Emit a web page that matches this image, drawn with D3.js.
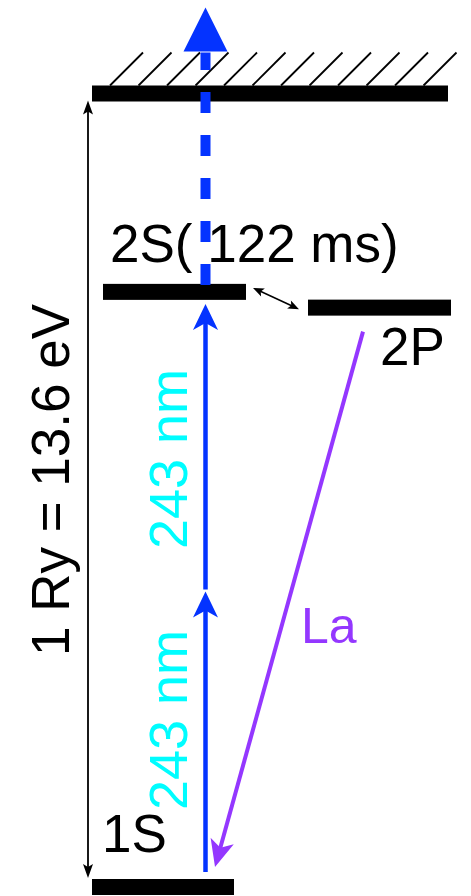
<!DOCTYPE html>
<html>
<head>
<meta charset="utf-8">
<script src="https://cdn.jsdelivr.net/npm/d3@7"></script>
<style>
  html, body { margin: 0; padding: 0; background: #ffffff; }
  svg { display: block; }
  text { font-family: "Liberation Sans", Arial, Helvetica, sans-serif; }
</style>
</head>
<body>
<svg id="chart" width="471" height="896"></svg>
<script>
// Hydrogen levels (energy above the ground state, eV)
const levelNames = ["1S", "2S", "2P", "ion"];
const levelEnergies = [0, 10.2, 9.93, 13.6];   // 2P set a little below 2S so both bars stay readable
const levelLabels = ["1S", "2S( 122 ms)", "2P", ""];

// Two-photon excitation 1S -> 2S, one 243 nm photon per step (eV)
const photonSteps = [[0, 5.1], [5.1, 10.2]];
const photonLabels = ["243 nm", "243 nm"];

// Lyman-alpha decay 2P -> 1S
const decayLevels = ["2P", "1S"];
const decayLabel = "La";

const rydbergEnergy = 13.6;
const rydbergLabel = "1 Ry = 13.6 eV";

// ---- layout ----
const W = 471, H = 896;
const C = { blue: "#0433ff", cyan: "#00fdff", purple: "#9437ff", black: "#000000" };
const barThick = 16;
const barX = { "1S": [92, 234], "2S": [103, 246], "2P": [308, 451], "ion": [92, 448] };
const laserX = 205.5;

const svg = d3.select("#chart");
const y = d3.scaleLinear().domain([0, rydbergEnergy]).range([887, 93.5]);
const E = name => levelEnergies[levelNames.indexOf(name)];

// notched arrow head: tip point, direction taken from `from`
function headPath(tip, from, len, halfW, notch) {
  const dx = tip[0] - from[0], dy = tip[1] - from[1];
  const L = Math.hypot(dx, dy), ux = dx / L, uy = dy / L;
  const bx = tip[0] - len * ux, by = tip[1] - len * uy;
  const nx = -uy, ny = ux;
  const p = d3.path();
  p.moveTo(tip[0], tip[1]);
  p.lineTo(bx + halfW * nx, by + halfW * ny);
  p.lineTo(tip[0] - (len - notch) * ux, tip[1] - (len - notch) * uy);
  p.lineTo(bx - halfW * nx, by - halfW * ny);
  p.closePath();
  return p.toString();
}
function shaftEnd(tip, from, back) {
  const dx = tip[0] - from[0], dy = tip[1] - from[1];
  const L = Math.hypot(dx, dy);
  return [tip[0] - back * dx / L, tip[1] - back * dy / L];
}
function arrow(g, from, to, opt) {
  const end = shaftEnd(to, from, opt.len - opt.notch - 1);
  const start = opt.both ? shaftEnd(from, to, opt.len - opt.notch - 1) : from;
  g.append("line")
    .attr("x1", start[0]).attr("y1", start[1])
    .attr("x2", end[0]).attr("y2", end[1])
    .attr("stroke", opt.color).attr("stroke-width", opt.width);
  g.append("path").attr("d", headPath(to, from, opt.len, opt.halfW, opt.notch)).attr("fill", opt.color);
  if (opt.both) g.append("path").attr("d", headPath(from, to, opt.len, opt.halfW, opt.notch)).attr("fill", opt.color);
}

// ---- hatching above the ionization limit ----
const ionTop = y(E("ion")) - barThick / 2;
const hatchStarts = d3.range(12).map(i => barX.ion[0] + 18 + i * 28.5);
svg.append("g").selectAll("line").data(hatchStarts).join("line")
  .attr("x1", d => d).attr("y1", ionTop)
  .attr("x2", d => d + 33).attr("y2", ionTop - 33)
  .attr("stroke", C.black).attr("stroke-width", 1.8);

// ---- level bars ----
svg.append("g").selectAll("rect").data(levelNames).join("rect")
  .attr("x", d => barX[d][0])
  .attr("width", d => barX[d][1] - barX[d][0])
  .attr("y", d => y(E(d)) - barThick / 2)
  .attr("height", barThick)
  .attr("fill", C.black);

// ---- level labels ----
const labelPos = { "1S": [102, 852], "2S": [110, 262], "2P": [380, 365] };
svg.append("g").selectAll("text").data(levelNames.filter(n => labelPos[n])).join("text")
  .attr("x", d => labelPos[d][0]).attr("y", d => labelPos[d][1])
  .attr("font-size", 53).attr("fill", C.black)
  .text(d => levelLabels[levelNames.indexOf(d)]);

// ---- ionization: dashed blue arrow from 2S through the limit ----
const ion = svg.append("g");
const dashFrom = y(E("2S")) - barThick / 2 + 1;
const ionTip = y(E("ion")) - 86;
const ionHeadBase = ionTip + 44;
ion.append("line")
  .attr("x1", laserX).attr("y1", dashFrom)
  .attr("x2", laserX).attr("y2", ionHeadBase + 1)
  .attr("stroke", C.blue).attr("stroke-width", 10)
  .attr("stroke-dasharray", "21,22");
ion.append("path")
  .attr("d", `M${laserX},${ionTip}L${laserX + 22},${ionHeadBase}L${laserX - 22},${ionHeadBase}Z`)
  .attr("fill", C.blue);

// ---- two-photon excitation arrows ----
const ex = svg.append("g");
photonSteps.forEach(([e0, e1], i) => {
  const yStart = i === 0 ? y(e0) - barThick / 2 - 7 : y(e0);
  const yEnd = e1 === E("2S") ? y(e1) + barThick / 2 + 4 : y(e1) + 2;
  arrow(ex, [laserX, yStart], [laserX, yEnd], { color: C.blue, width: 4.5, len: 26, halfW: 12.5, notch: 7 });
});
const photonLabelY = [459, 720];
svg.append("g").selectAll("text").data(photonLabels).join("text")
  .attr("transform", (d, i) => `translate(187,${photonLabelY[i]}) rotate(-90)`)
  .attr("text-anchor", "middle")
  .attr("font-size", 54).attr("fill", C.cyan)
  .text(d => d);

// ---- Lyman-alpha decay ----
const dec = svg.append("g");
const decFrom = [363, y(E(decayLevels[0])) + barThick / 2 + 16];
const decTo = [215, y(E(decayLevels[1])) - barThick / 2 - 12];
arrow(dec, decFrom, decTo, { color: C.purple, width: 4, len: 27, halfW: 12, notch: 7 });
dec.append("text").attr("x", 301).attr("y", 643)
  .attr("font-size", 50).attr("fill", C.purple).text(decayLabel);

// ---- 2S <-> 2P coupling ----
arrow(svg.append("g"), [253, y(E("2S")) - 4], [299, y(E("2P")) + 1.5],
  { color: C.black, width: 1.5, len: 11, halfW: 4.5, notch: 2.5, both: true });

// ---- Rydberg span ----
arrow(svg.append("g"), [88, y(E("ion")) + barThick / 2 - 1], [88, y(0) - barThick / 2 - 1],
  { color: C.black, width: 1.8, len: 14, halfW: 5, notch: 3, both: true });
svg.append("text")
  .attr("transform", "translate(69,480) rotate(-90)")
  .attr("text-anchor", "middle")
  .attr("font-size", 53).attr("fill", C.black)
  .text(rydbergLabel);
</script>
</body>
</html>
